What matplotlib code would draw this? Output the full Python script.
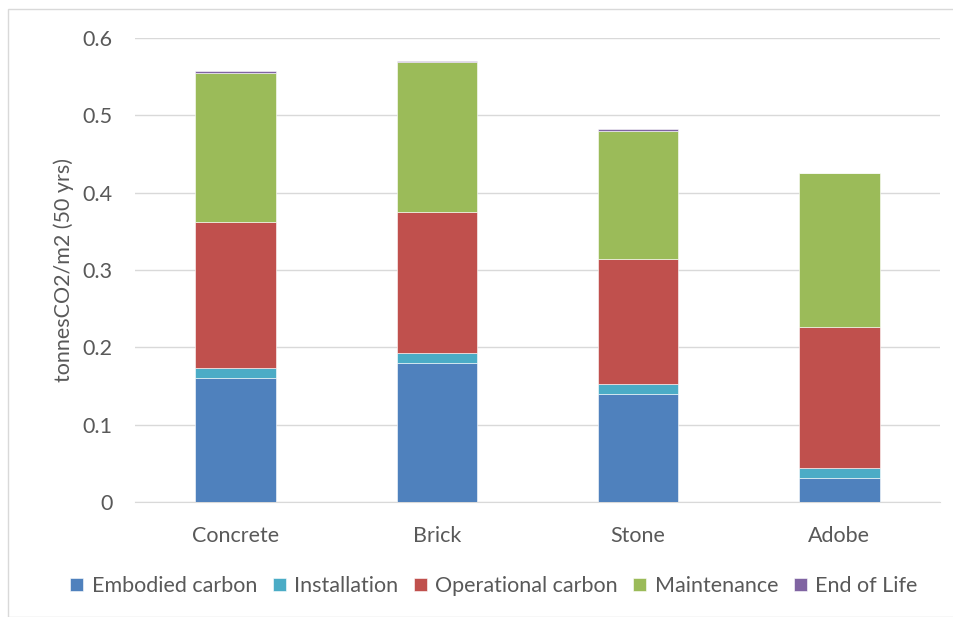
import matplotlib.pyplot as plt
import numpy as np
from matplotlib.patches import Rectangle

plt.rcParams['font.family'] = ['Lato', 'DejaVu Sans']

materials = ['Concrete', 'Brick', 'Stone', 'Adobe']
embodied = [0.160, 0.180, 0.140, 0.031]
installation = [0.013, 0.013, 0.012, 0.0125]
operational = [0.189, 0.182, 0.162, 0.1825]
maintenance = [0.193, 0.194, 0.166, 0.199]
end_of_life = [0.0025, 0.0015, 0.002, 0.0005]

series = [
    ('Embodied carbon', embodied, '#4F81BD'),
    ('Installation', installation, '#4BACC6'),
    ('Operational carbon', operational, '#C0504D'),
    ('Maintenance', maintenance, '#9BBB59'),
    ('End of Life', end_of_life, '#8064A2'),
]

fig = plt.figure(figsize=(9.54, 6.17), dpi=100)
ax = fig.add_axes([135/954, 1-502/617, 805/954, 464/617])

x = np.arange(len(materials))
bottom = np.zeros(len(materials))
for name, vals, col in series:
    ax.bar(x, vals, 0.4, bottom=bottom, color=col, label=name,
           edgecolor='white', linewidth=0.4, zorder=3)
    bottom += np.array(vals)

ax.set_xlim(-0.5, 3.5)
ax.set_ylim(0, 0.6)
ax.set_yticks(np.arange(0, 0.61, 0.1))
ax.set_yticklabels(['0', '0.1', '0.2', '0.3', '0.4', '0.5', '0.6'])
ax.set_xticks(x)
ax.set_xticklabels(materials)
ax.grid(axis='y', color='#D9D9D9', linewidth=1, zorder=0)
for s in ['top', 'right', 'left']:
    ax.spines[s].set_visible(False)
ax.spines['bottom'].set_color('#D9D9D9')
ax.tick_params(length=0, labelsize=15.5, colors='#595959')
ax.tick_params(axis='x', pad=17)
ax.tick_params(axis='y', pad=16)
ax.set_ylabel('tonnesCO2/m2 (50 yrs)', fontsize=15.5, color='#595959', labelpad=6)

ax.legend(loc='center', bbox_to_anchor=(494/954, 1-586/617),
          bbox_transform=fig.transFigure, ncol=5, frameon=False,
          fontsize=15.5, labelcolor='#595959', handlelength=0.6, handleheight=0.6,
          handletextpad=0.4, columnspacing=0.72)

fig.patches.append(Rectangle((8/954, 0), 946/954, 1-9/617, transform=fig.transFigure,
                             fill=False, edgecolor='#D9D9D9', linewidth=1))

fig.savefig('out.png', dpi=100)
